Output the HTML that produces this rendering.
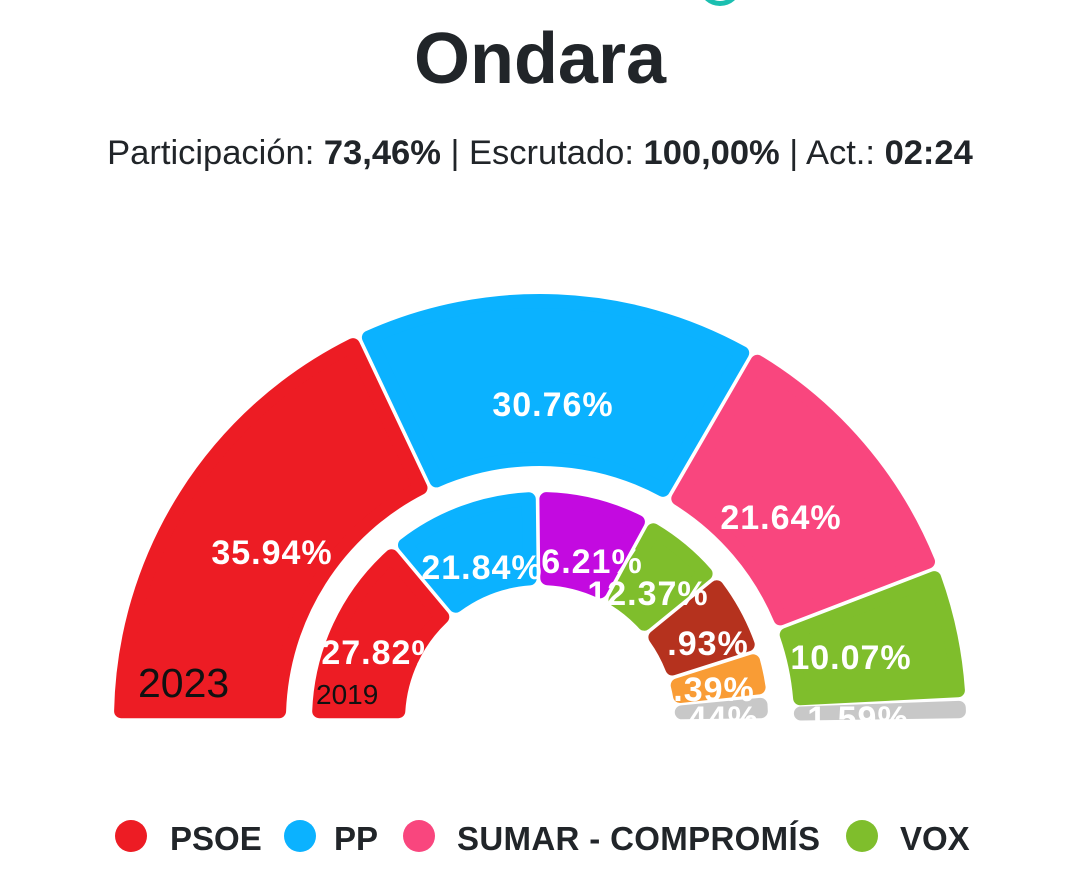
<!DOCTYPE html>
<html><head><meta charset="utf-8"><style>
body{margin:0;width:1080px;height:892px;background:#fff;font-family:"Liberation Sans",sans-serif;overflow:hidden;position:relative}
.t{position:absolute;left:0;width:1080px;text-align:center;color:#212529}
</style></head><body>
<div style="position:absolute;left:700px;top:-30px;width:40px;height:36px;border-radius:50%;border:5px solid #1bbfb0;border-top-color:transparent;box-sizing:border-box"></div>
<div class="t" style="top:18px;font-size:72px;font-weight:bold;">Ondara</div>
<div class="t" style="top:134px;font-size:34.5px;">Participación: <b>73,46%</b> | Escrutado: <b>100,00%</b> | Act.: <b>02:24</b></div>
<svg id="s" width="1080" height="892" style="position:absolute;left:0;top:0">
<defs><clipPath id="c"><rect x="0" y="0" width="1080" height="721"/></clipPath></defs>
<g id="g" clip-path="url(#c)"></g>
<g font-family="Liberation Sans" font-weight="bold" fill="#fff" font-size="34" text-anchor="middle" letter-spacing="1">
<text x="272" y="564">35.94%</text>
<text x="553" y="416">30.76%</text>
<text x="781" y="529">21.64%</text>
<text x="851" y="669">10.07%</text>
<text x="858" y="730">1.59%</text>
<text x="482" y="579">21.84%</text>
<text x="592" y="573">6.21%</text>
<text x="648" y="605">12.37%</text>
<text x="708" y="655">.93%</text>
<text x="714" y="701">.39%</text>
<text x="718" y="730">.44%</text>
<text x="382" y="664">27.82%</text>
</g>
<text x="138" y="697" font-family="Liberation Sans" font-size="41" fill="#111">2023</text>
<text x="316" y="704" font-family="Liberation Sans" font-size="28" fill="#111">2019</text>
<g font-family="Liberation Sans" font-weight="bold" font-size="33" fill="#212529">
<circle cx="131" cy="836" r="16" fill="#ed1c24"/><text x="170" y="850">PSOE</text>
<circle cx="300" cy="836" r="16" fill="#0bb2ff"/><text x="334" y="850">PP</text>
<circle cx="419" cy="836" r="16" fill="#f9467e"/><text x="457" y="850" textLength="363">SUMAR - COMPROMÍS</text>
<circle cx="862" cy="836" r="16" fill="#7fbe2c"/><text x="900" y="850">VOX</text>
</g>
</svg>
<script>
var g=document.getElementById('g'),cx=540,cy=720;
function P(a,r){a=a*Math.PI/180;return (cx-r*Math.cos(a)).toFixed(1)+','+(cy-r*Math.sin(a)).toFixed(1);}
function seg(a1,a2,r1,r2,col){var d=7,g2=1.8;
r1+=d;r2-=d;
var da1=(d+g2)/r1*180/Math.PI, da2=(d+g2)/r2*180/Math.PI;
var b1=a1+da2,b2=a2-da2,c1=a1+da1,c2=a2-da1;
if(b2<b1){b1=b2=(a1+a2)/2;} if(c2<c1){c1=c2=(a1+a2)/2;}
var p=document.createElementNS('http://www.w3.org/2000/svg','path');
p.setAttribute('d','M'+P(c1,r1)+'L'+P(b1,r2)+'A'+r2+','+r2+' 0 0 1 '+P(b2,r2)+'L'+P(c2,r1)+'A'+r1+','+r1+' 0 0 0 '+P(c1,r1)+'Z');
p.setAttribute('fill',col);p.setAttribute('stroke',col);p.setAttribute('stroke-width',2*d);p.setAttribute('stroke-linejoin','round');g.appendChild(p);}
function ring(v,c,r1,r2){var a=0;for(var i=0;i<v.length;i++){var b=a+v[i]*1.8;seg(a,b,r1,r2,c[i]);a=b;}}
ring([35.94,30.76,21.64,10.07,1.59],['#ed1c24','#0bb2ff','#f9467e','#7fbe2c','#c8c8c8'],254,426);
ring([27.82,21.84,16.21,12.37,11.93,6.39,3.44],['#ed1c24','#0bb2ff','#c30ae0','#7fbe2c','#b5321e','#f99c35','#c8c8c8'],135,228);
</script>
</body></html>
